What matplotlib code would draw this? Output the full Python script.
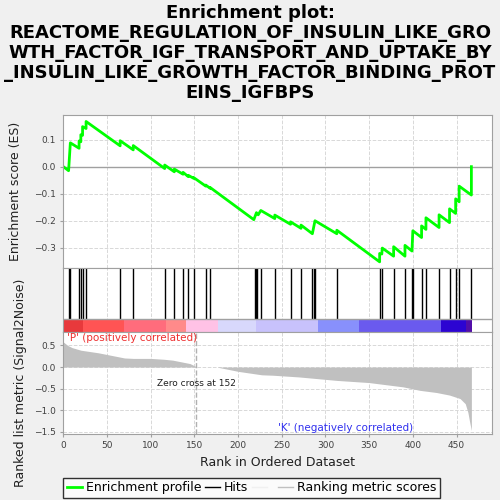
import matplotlib
matplotlib.use('Agg')
import matplotlib.pyplot as plt
from matplotlib.lines import Line2D
import numpy as np

# Enrichment score profile (rank, ES)
es_rank = [0, 6, 8, 18, 18, 20, 20, 22, 22, 26, 26, 65, 65, 80, 80, 116, 116,
           127, 127, 137, 137, 143, 143, 149, 149, 163, 163, 168, 168, 218,
           221, 223, 226, 242, 242, 260, 260, 272, 272, 285, 288, 313, 313,
           362, 362, 364.5, 365, 378, 378, 391, 391, 399, 400, 410, 410, 415,
           415, 430, 430, 442, 442, 449, 449, 453, 453, 467, 467]
es_value = [0.0, -0.015, 0.088, 0.068, 0.095, 0.092, 0.118, 0.116, 0.148,
            0.141, 0.167, 0.077, 0.096, 0.062, 0.078, -0.007, 0.006, -0.019,
            -0.009, -0.028, -0.021, -0.037, -0.032, -0.043, -0.040, -0.072,
            -0.068, -0.080, -0.077, -0.196, -0.170, -0.178, -0.162, -0.192,
            -0.179, -0.213, -0.204, -0.228, -0.216, -0.248, -0.200, -0.248,
            -0.235, -0.352, -0.321, -0.323, -0.301, -0.331, -0.296, -0.331,
            -0.291, -0.312, -0.237, -0.262, -0.219, -0.232, -0.189, -0.225,
            -0.178, -0.207, -0.156, -0.173, -0.119, -0.130, -0.072, -0.105,
            0.0]

# positions of the gene set members in the ranked list
hit_ranks = [6, 8, 18, 20, 22, 26, 65, 80, 116, 127, 137, 143, 149, 163, 168,
             219, 220, 221, 222, 226, 242, 260, 272, 285, 287, 288, 313, 362,
             365, 378, 391, 399, 400, 410, 415, 430, 442, 449, 453, 467]

# ranked list metric (Signal2Noise), sampled along the list
metric_rank = [0, 5, 10, 15, 20, 30, 40, 50, 60, 70, 80, 100, 115, 125, 135,
               145, 151, 152, 177, 178, 200, 227, 240, 270, 313, 350, 389, 408,
               427, 442, 454, 460, 463, 465, 467]
metric_value = [0.58, 0.50, 0.45, 0.42, 0.39, 0.36, 0.33, 0.29, 0.25, 0.21,
                0.20, 0.20, 0.18, 0.16, 0.12, 0.08, 0.02, 0.0, 0.0, -0.01,
                -0.10, -0.18, -0.19, -0.23, -0.31, -0.36, -0.46, -0.54, -0.59,
                -0.65, -0.73, -0.85, -1.05, -1.27, -1.47]

# colour bar segments (start rank, end rank, colour)
bar_start = [0, 23, 69, 118, 140, 177, 221, 292, 338, 432, 461]
bar_end = [23, 69, 118, 140, 177, 221, 292, 338, 432, 461, 468]
bar_color = ['#e8393c', '#ff5454', '#ff6c7c', '#ff8a8a', '#ffc2e6', '#d8d8fc',
             '#c8c2fc', '#8890fc', '#6a5aee', '#2c04d2', '#520ea8']

zero_cross = 152
x_max = 491

spine_col = '#a0a0a0'
grid_kw = dict(color='#d8d8d8', linestyle='--', linewidth=0.7)

fig = plt.figure(figsize=(5, 5), dpi=100, facecolor='#f0f0f0')

ax_es = fig.add_axes([0.1267, 0.4633, 0.858, 0.3067])
ax_hit = fig.add_axes([0.1267, 0.3367, 0.858, 0.1266])
ax_m = fig.add_axes([0.1267, 0.133, 0.858, 0.2037])

for ax in (ax_es, ax_hit, ax_m):
    ax.set_xlim(0, x_max)
    for s in ax.spines.values():
        s.set_color(spine_col)
    ax.tick_params(colors='#404040', labelsize=6.5, length=2, color=spine_col)
    ax.grid(True, **grid_kw)
    ax.set_axisbelow(True)
    ax.set_xticks(range(0, 451, 50))

# ---- ES panel
ax_es.axhline(0, color='#a0a0a0', linewidth=1)
ax_es.plot(es_rank, es_value, color='#00ff00', linewidth=2)
ax_es.set_ylim(-0.376, 0.191)
ax_es.set_yticks([-0.3, -0.2, -0.1, 0.0, 0.1])
ax_es.tick_params(labelbottom=False, bottom=False)
ax_es.set_ylabel('Enrichment score (ES)', fontsize=9, color='#202020')
ax_es.yaxis.set_label_coords(-0.096, 0.5)

# ---- hits panel
ax_hit.set_ylim(0, 1)
ax_hit.set_yticks([])
ax_hit.tick_params(labelbottom=False, bottom=False)
ax_hit.vlines(hit_ranks, 0.2, 1, color='black', linewidth=1)
for a, b, c in zip(bar_start, bar_end, bar_color):
    ax_hit.axvspan(a, b, ymin=0, ymax=0.2, color=c, linewidth=0)
ax_hit.axhline(0.2, color=spine_col, linewidth=1)

# ---- ranked metric panel
ax_m.fill_between(metric_rank, metric_value, 0, color='#c0c0c0', linewidth=0)
ax_m.set_ylim(-1.54, 0.82)
ax_m.set_yticks([-1.5, -1.0, -0.5, 0.0, 0.5])
ax_m.axvline(zero_cross, color='#b0b0b0', linestyle='--', linewidth=1)
ax_m.text(zero_cross, -0.39, 'Zero cross at %d' % zero_cross, fontsize=6.5,
          ha='center', va='center', color='#202020')
ax_m.text(4, 0.68, "'P' (positively correlated)", fontsize=7.5, color='#ee3030',
          ha='left', va='center')
ax_m.text(246, -1.41, "'K' (negatively correlated)", fontsize=7.5,
          color='#3030ee', ha='left', va='center')
ax_m.set_xlabel('Rank in Ordered Dataset', fontsize=9, color='#202020')
ax_m.set_ylabel('Ranked list metric (Signal2Noise)', fontsize=9, color='#202020')
ax_m.yaxis.set_label_coords(-0.085, 0.5)

fig.suptitle('Enrichment plot:\nREACTOME_REGULATION_OF_INSULIN_LIKE_GRO\n'
             'WTH_FACTOR_IGF_TRANSPORT_AND_UPTAKE_BY\n'
             '_INSULIN_LIKE_GROWTH_FACTOR_BINDING_PROT\nEINS_IGFBPS',
             x=0.5, y=0.992, va='top', fontsize=13, fontweight='bold',
             linespacing=1.15)

handles = [Line2D([], [], color='#00ff00', linewidth=2),
           Line2D([], [], color='black', linewidth=1),
           Line2D([], [], color='#f0f0f0', linewidth=1),
           Line2D([], [], color='#c0c0c0', linewidth=1)]
labels = ['Enrichment profile', 'Hits', ' ', 'Ranking metric scores']
leg = fig.legend(handles, labels, loc='lower left',
                 bbox_to_anchor=(0.126, 0.004), ncol=4, fontsize=9,
                 frameon=True, fancybox=False, handlelength=1.2,
                 handletextpad=0.3, columnspacing=0.3, borderpad=0.3,
                 borderaxespad=0)
leg.get_frame().set_edgecolor('black')
leg.get_frame().set_linewidth(1)

fig.savefig('out.png', dpi=100, facecolor=fig.get_facecolor())
